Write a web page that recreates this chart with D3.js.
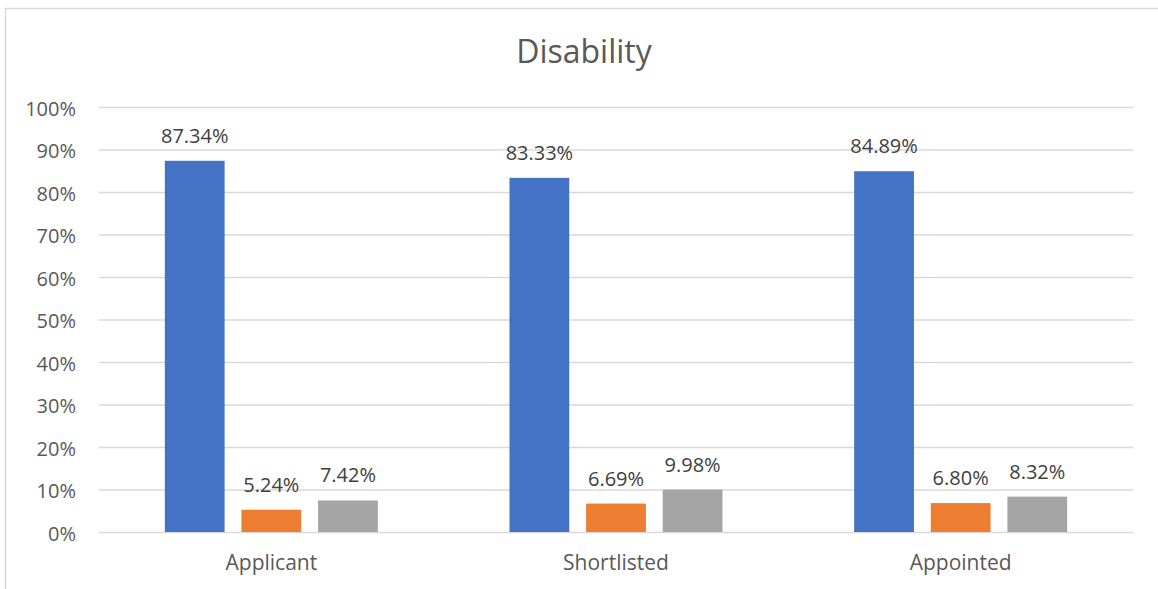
<!DOCTYPE html>
<html>
<head>
<meta charset="utf-8">
<script src="https://cdn.jsdelivr.net/npm/d3@7"></script>
<style>
  html, body { margin: 0; padding: 0; background: #fff; }
  svg { display: block; font-family: "Open Sans", sans-serif; }
</style>
</head>
<body>
<svg id="chart" width="1158" height="589"></svg>
<script>
// Share of each group at each recruitment stage
const categories = ["Applicant", "Shortlisted", "Appointed"];
const seriesNames = ["Series A", "Series B", "Series C"];
const seriesA = [87.34, 83.33, 84.89];
const seriesB = [5.24, 6.69, 6.80];
const seriesC = [7.42, 9.98, 8.32];
const yTicks = [0, 10, 20, 30, 40, 50, 60, 70, 80, 90, 100];
const colors = ["#4472C4", "#ED7D31", "#A5A5A5"];
const FONT = "'Open Sans', sans-serif";

const rows = categories.map((c, i) => ({
  category: c,
  values: [seriesA[i], seriesB[i], seriesC[i]]
}));

const svg = d3.select("#chart");
const W = 1158, H = 589;
const margin = { left: 99, right: 25, top: 107, bottom: 57 };
const plotW = W - margin.left - margin.right;
const plotH = H - margin.top - margin.bottom;

// chart frame
svg.append("rect")
  .attr("x", 5.5).attr("y", 8.5)
  .attr("width", 1300).attr("height", 700)
  .attr("fill", "none").attr("stroke", "#D9D9D9").attr("stroke-width", 1.5);

svg.append("text")
  .attr("x", 584).attr("y", 63)
  .attr("text-anchor", "middle")
  .attr("font-size", 32)
  .attr("fill", "#595959")
  .attr("font-family", FONT)
  .text("Disability");

const g = svg.append("g").attr("transform", `translate(${margin.left},${margin.top})`);

const x0 = d3.scaleBand().domain(categories).range([0, plotW]).paddingInner(0).paddingOuter(0);
const x1 = d3.scaleBand().domain(d3.range(3)).range([0, 213]).paddingInner(0.22);
const y = d3.scaleLinear().domain([0, 100]).range([plotH, 0]);

// gridlines
g.append("g").selectAll("line").data(yTicks).join("line")
  .attr("x1", 0).attr("x2", plotW)
  .attr("y1", d => y(d) + 0.5).attr("y2", d => y(d) + 0.5)
  .attr("stroke", "#D9D9D9").attr("stroke-width", 1.5);

// y axis labels
const yAxis = d3.axisLeft(y).tickValues(yTicks).tickFormat(d => d + "%").tickSize(0).tickPadding(23);
const ya = g.append("g").call(yAxis);
ya.select(".domain").remove();
ya.selectAll("text").attr("font-size", 20).attr("dy", "0.4em").attr("fill", "#595959").attr("font-family", FONT);

// x axis labels
const xAxis = d3.axisBottom(x0).tickSize(0).tickPadding(23);
const xa = g.append("g").attr("transform", `translate(0,${plotH})`).call(xAxis);
xa.select(".domain").remove();
xa.selectAll("text").attr("font-size", 21).attr("fill", "#595959").attr("font-family", FONT);

// bars
const groups = g.append("g").selectAll("g").data(rows).join("g")
  .attr("transform", d => `translate(${x0(d.category) + (x0.bandwidth() - 213) / 2},0)`);

groups.selectAll("rect").data(d => d.values.map((v, i) => ({ v, i }))).join("rect")
  .attr("x", d => x1(d.i))
  .attr("width", x1.bandwidth())
  .attr("y", d => y(d.v))
  .attr("height", d => y(0) - y(d.v))
  .attr("fill", d => colors[d.i]);

groups.selectAll("text").data(d => d.values.map((v, i) => ({ v, i }))).join("text")
  .attr("x", d => x1(d.i) + x1.bandwidth() / 2)
  .attr("y", d => y(d.v) - 18)
  .attr("text-anchor", "middle")
  .attr("font-size", 20)
  .attr("fill", "#404040")
  .attr("font-family", FONT)
  .text(d => d.v.toFixed(2) + "%");
</script>
</body>
</html>
